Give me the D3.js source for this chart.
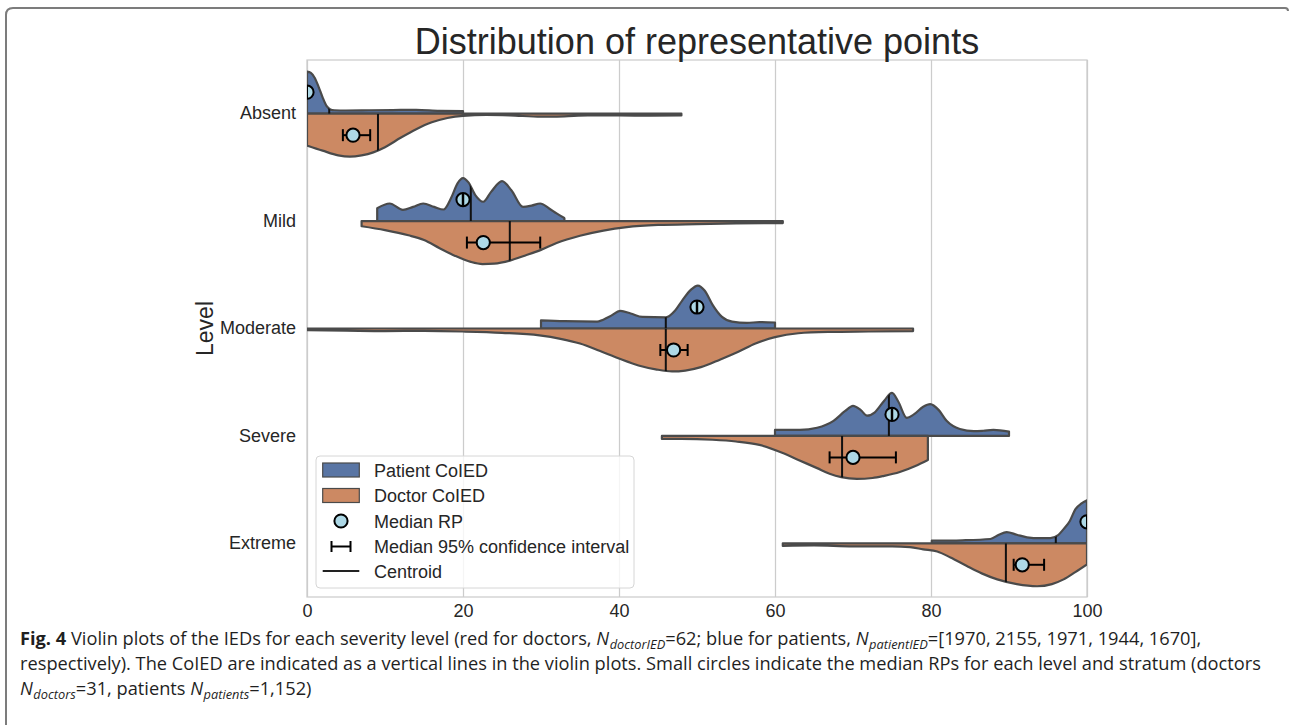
<!DOCTYPE html>
<html>
<head>
<meta charset="utf-8">
<script src="https://cdn.jsdelivr.net/npm/d3@7"></script>
<style>
  html, body { margin: 0; padding: 0; background: #ffffff; }
  svg { display: block; }
</style>
</head>
<body>
<svg id="chart" width="1289" height="725"></svg>
<script>
// ---------------- data ----------------
const levels = ["Absent", "Mild", "Moderate", "Severe", "Extreme"];
const xTicks = [0, 20, 40, 60, 80, 100];

// Kernel density profiles per level: [IED value, relative density]
// (each half scaled so that its peak is 1, i.e. scale = "width")
const patientDensity = [
  [[0,0.98],[0.5,0.95],[1.0,0.83],[1.5,0.62],[2.0,0.38],[2.5,0.18],[3.0,0.1],[3.5,0.08],[5,0.075],[8,0.08],[11,0.085],[14,0.09],[17,0.065],[20,0.06]],
  [[9,0.3],[10.6,0.41],[12.3,0.26],[13.6,0.33],[14.9,0.41],[16.3,0.33],[17.5,0.27],[18.5,0.55],[19.3,0.88],[20,1.0],[20.7,0.9],[21.6,0.6],[22.6,0.45],[23.6,0.68],[25,0.93],[26.2,0.72],[27.7,0.33],[28.8,0.36],[29.9,0.41],[31,0.3],[32,0.18],[33,0.07]],
  [[30,0.19],[33,0.17],[37.2,0.16],[38.8,0.28],[40.2,0.41],[41.5,0.35],[43,0.27],[46,0.26],[47.2,0.42],[48.1,0.65],[49.2,0.9],[50.1,1.0],[51,0.88],[52,0.55],[53.2,0.27],[54.5,0.16],[56.4,0.13],[58,0.15],[60,0.14]],
  [[60,0.14],[63.2,0.14],[65.4,0.19],[67.5,0.35],[69,0.58],[70,0.7],[71,0.6],[71.8,0.47],[72.8,0.55],[74,0.82],[75,1.0],[75.8,0.8],[76.9,0.42],[77.8,0.5],[79,0.68],[79.9,0.74],[81,0.6],[82,0.35],[83.7,0.16],[85.5,0.11],[86.7,0.12],[88,0.14],[90,0.1]],
  [[80.1,0.06],[84,0.07],[87.6,0.1],[88.7,0.2],[89.7,0.26],[91,0.2],[92.3,0.14],[94,0.12],[95.3,0.12],[96.3,0.19],[97,0.33],[97.8,0.52],[98.5,0.79],[99.3,0.93],[100,1.0]]
];
const doctorDensity = [
  [[0,0.74],[2,0.86],[4,0.97],[5.5,1.0],[7,0.97],[8.5,0.9],[10,0.78],[12,0.56],[14,0.36],[16,0.2],[18,0.1],[20,0.05],[23,0.03],[26,0.04],[30,0.07],[33,0.06],[36,0.04],[40,0.04],[44,0.045],[48,0.04]],
  [[7,0.12],[10,0.21],[13,0.33],[15,0.44],[17,0.63],[19,0.81],[21,0.95],[22.5,1.0],[24,0.99],[26,0.92],[28,0.8],[30,0.67],[32,0.51],[35,0.34],[38,0.22],[41,0.14],[45,0.09],[50,0.07],[55,0.055],[61,0.045]],
  [[0,0.04],[5,0.05],[10,0.06],[15,0.055],[20,0.07],[25,0.1],[29.8,0.16],[32.5,0.24],[35,0.35],[37.5,0.52],[40,0.7],[42.5,0.86],[44.7,0.95],[46.8,1.0],[48.5,0.98],[50.5,0.9],[53,0.72],[55.3,0.54],[57.5,0.35],[60,0.2],[63,0.11],[67,0.08],[72,0.07],[77.7,0.06]],
  [[45.5,0.07],[48,0.07],[52,0.09],[55,0.13],[58,0.21],[61,0.4],[63,0.56],[65.4,0.75],[67,0.88],[68.5,0.96],[70.5,1.0],[72.5,0.98],[74,0.93],[76,0.84],[78,0.7],[79.6,0.56]],
  [[61,0.06],[65,0.05],[70,0.07],[75,0.07],[77.3,0.09],[79,0.14],[80.8,0.19],[82.5,0.33],[84.6,0.53],[86.5,0.7],[88.5,0.84],[91,0.95],[93.6,1.0],[95.5,0.95],[97,0.84],[98.5,0.67],[100,0.49]]
];

// CoIED (centroid) per level
const patientCentroid = [2.85, 21.0, 46.0, 74.6, 96.0];
const doctorCentroid  = [9.1, 26.0, 46.0, 68.6, 89.6];

// Median representative point and its 95% confidence interval
const patientMedian = [0, 20.0, 50.0, 75.0, 100];
const doctorMedian  = [5.9, 22.6, 47.0, 70.0, 91.7];
const patientCI = [[0, 0], [19.97, 20.03], [49.97, 50.03], [74.97, 75.03], [100, 100]];
const doctorCI  = [[4.6, 8.1], [20.5, 29.9], [45.3, 48.8], [67.0, 75.5], [90.6, 94.5]];

const legendLabels = ["Patient CoIED", "Doctor CoIED", "Median RP", "Median 95% confidence interval", "Centroid"];

// ---------------- layout & style ----------------
const svg = d3.select("#chart");
const plot = { left: 307, right: 1087, top: 60, bottom: 597 };
const colPatient = "#5975a4";
const colDoctor = "#cc8963";
const colEdge = "#4a4a4a";
const colText = "#262626";
const colGrid = "#cccccc";
const colMarker = "#add8e6";
const sansFont = "'Liberation Sans', Arial, Helvetica, sans-serif";

const x = d3.scaleLinear().domain([0, 100]).range([plot.left, plot.right]);
const y = d3.scaleBand().domain(levels).range([plot.top, plot.bottom]);
const halfW = y.bandwidth() * 0.4;
const w = d3.scaleLinear().domain([0, 1]).range([0, halfW]);
const cy = lvl => y(lvl) + y.bandwidth() / 2;

// Frame around the figure panel
svg.append("path")
  .attr("d", "M6,725 L6,15 Q6,8 13,8 L1285,8 Q1288,8 1288,11")
  .attr("fill", "none").attr("stroke", "#7c7c7c").attr("stroke-width", 2);

const defs = svg.append("defs");
defs.append("clipPath").attr("id", "plotClip")
  .append("rect")
  .attr("x", plot.left).attr("y", plot.top)
  .attr("width", plot.right - plot.left).attr("height", plot.bottom - plot.top);

// Vertical gridlines
const grid = svg.append("g")
  .attr("transform", `translate(0,${plot.bottom})`)
  .call(d3.axisBottom(x).tickValues(xTicks).tickSize(-(plot.bottom - plot.top)).tickFormat(""));
grid.select(".domain").remove();
grid.selectAll("line").attr("stroke", colGrid).attr("stroke-width", 1.25);

// Axes frame
svg.append("rect")
  .attr("x", plot.left).attr("y", plot.top)
  .attr("width", plot.right - plot.left).attr("height", plot.bottom - plot.top)
  .attr("fill", "none").attr("stroke", colGrid).attr("stroke-width", 1.25);

// X tick labels
const xAxis = svg.append("g")
  .attr("transform", `translate(0,${plot.bottom})`)
  .call(d3.axisBottom(x).tickValues(xTicks).tickSize(0).tickPadding(7).tickFormat(d3.format("d")));
xAxis.select(".domain").remove();
xAxis.selectAll("text").attr("font-family", sansFont).attr("font-size", 18).attr("fill", colText);

// Y tick labels
const yAxis = svg.append("g")
  .attr("transform", `translate(${plot.left},0)`)
  .call(d3.axisLeft(y).tickSize(0).tickPadding(11));
yAxis.select(".domain").remove();
yAxis.selectAll("text").attr("font-family", sansFont).attr("font-size", 18).attr("fill", colText);

// Y axis label
svg.append("text")
  .attr("transform", `translate(213,${(plot.top + plot.bottom) / 2}) rotate(-90)`)
  .attr("text-anchor", "middle")
  .attr("font-family", sansFont).attr("font-size", 23).attr("fill", colText)
  .text("Level");

// Title
svg.append("text")
  .attr("x", (plot.left + plot.right) / 2).attr("y", 54)
  .attr("text-anchor", "middle")
  .attr("font-family", sansFont).attr("font-size", 36).attr("fill", colText)
  .text("Distribution of representative points");

// ---------------- violins ----------------
const plotG = svg.append("g").attr("clip-path", "url(#plotClip)");

const halves = [
  { name: "patient", dens: patientDensity, color: colPatient, dir: -1, cen: patientCentroid, med: patientMedian, ci: patientCI },
  { name: "doctor",  dens: doctorDensity,  color: colDoctor,  dir: 1,  cen: doctorCentroid,  med: doctorMedian,  ci: doctorCI }
];

function halfArea(lvl, dir) {
  return d3.area()
    .x(d => x(d[0]))
    .y0(cy(lvl))
    .y1(d => cy(lvl) + dir * w(d[1]))
    .curve(d3.curveMonotoneX);
}

levels.forEach((lvl, i) => {
  halves.forEach(h => {
    const pathD = halfArea(lvl, h.dir)(h.dens[i]);
    defs.append("clipPath").attr("id", `clip-${h.name}-${i}`)
      .append("path").attr("d", pathD);
    plotG.append("path")
      .attr("d", pathD)
      .attr("fill", h.color)
      .attr("stroke", colEdge)
      .attr("stroke-width", 2.2)
      .attr("stroke-linejoin", "round");
  });
});

// Centroid lines, confined to their own half-violin
levels.forEach((lvl, i) => {
  halves.forEach(h => {
    plotG.append("g").attr("clip-path", `url(#clip-${h.name}-${i})`)
      .append("line")
      .attr("x1", x(h.cen[i])).attr("x2", x(h.cen[i]))
      .attr("y1", cy(lvl)).attr("y2", cy(lvl) + h.dir * (halfW + 4))
      .attr("stroke", "#111").attr("stroke-width", 2);
  });
});

// Median markers with 95% CI error bars (caps drawn above the marker)
const capH = 6;
levels.forEach((lvl, i) => {
  halves.forEach(h => {
    const py = cy(lvl) + h.dir * halfW / 2;
    const [lo, hi] = h.ci[i];
    plotG.append("line")
      .attr("x1", x(lo)).attr("x2", x(hi)).attr("y1", py).attr("y2", py)
      .attr("stroke", "#000").attr("stroke-width", 2);
    plotG.append("circle")
      .attr("cx", x(h.med[i])).attr("cy", py).attr("r", 6.6)
      .attr("fill", colMarker).attr("stroke", "#000").attr("stroke-width", 2);
    [lo, hi].forEach(v => {
      plotG.append("line")
        .attr("x1", x(v)).attr("x2", x(v)).attr("y1", py - capH).attr("y2", py + capH)
        .attr("stroke", "#000").attr("stroke-width", 2);
    });
  });
});

// ---------------- legend ----------------
const lg = svg.append("g").attr("transform", "translate(316,456)");
lg.append("rect")
  .attr("x", 0).attr("y", 0).attr("width", 318).attr("height", 132).attr("rx", 4)
  .attr("fill", "rgba(255,255,255,0.8)").attr("stroke", "#d6d6d6").attr("stroke-width", 1);
const rowY = [14, 39.5, 65, 90.5, 115];
const symX0 = 6.7, symX1 = 43.3, symXC = 25;
lg.append("rect").attr("x", symX0).attr("y", rowY[0] - 7).attr("width", symX1 - symX0).attr("height", 14)
  .attr("fill", colPatient).attr("stroke", colEdge).attr("stroke-width", 1.2);
lg.append("rect").attr("x", symX0).attr("y", rowY[1] - 7).attr("width", symX1 - symX0).attr("height", 14)
  .attr("fill", colDoctor).attr("stroke", colEdge).attr("stroke-width", 1.2);
lg.append("circle").attr("cx", symXC).attr("cy", rowY[2]).attr("r", 6.6)
  .attr("fill", colMarker).attr("stroke", "#000").attr("stroke-width", 2);
lg.append("line").attr("x1", symXC - 9.5).attr("x2", symXC + 9.5).attr("y1", rowY[3]).attr("y2", rowY[3])
  .attr("stroke", "#000").attr("stroke-width", 2);
[symXC - 9.5, symXC + 9.5].forEach(cx0 => {
  lg.append("line").attr("x1", cx0).attr("x2", cx0).attr("y1", rowY[3] - 5.5).attr("y2", rowY[3] + 5.5)
    .attr("stroke", "#000").attr("stroke-width", 2);
});
lg.append("line").attr("x1", symX0).attr("x2", symX1).attr("y1", rowY[4]).attr("y2", rowY[4])
  .attr("stroke", "#222").attr("stroke-width", 2);
lg.selectAll("text.lbl").data(legendLabels).enter().append("text")
  .attr("class", "lbl")
  .attr("x", 58).attr("y", (d, k) => rowY[k] + 6.5)
  .attr("font-family", sansFont).attr("font-size", 18).attr("fill", colText)
  .text(d => d);

// ---------------- caption ----------------
const captionLines = [
  [["Fig. 4", "b"], [" Violin plots of the IEDs for each severity level (red for doctors, ", ""], ["N", "i"], ["doctorIED", "sub"],
   ["=62; blue for patients, ", ""], ["N", "i"], ["patientIED", "sub"], ["=[1970, 2155, 1971, 1944, 1670],", ""]],
  [["respectively). The CoIED are indicated as a vertical lines in the violin plots. Small circles indicate the median RPs for each level and stratum (doctors", ""]],
  [["N", "i"], ["doctors", "sub"], ["=31, patients ", ""], ["N", "i"], ["patients", "sub"], ["=1,152)", ""]]
];
const capBase = [645, 670, 694.5];
const capFont = "'Open Sans', 'Noto Sans', sans-serif";
const capGroups = captionLines.map((parts, li) => {
  const g = svg.append("g").attr("transform", `translate(20,${capBase[li]})`);
  const t = g.append("text").attr("x", 0).attr("y", 0)
    .attr("font-family", capFont).attr("font-size", 18.5).attr("fill", "#1f1f1f");
  let shifted = false;
  parts.forEach(([str, st]) => {
    const ts = t.append("tspan").text(str);
    if (st === "b") ts.attr("font-weight", "bold");
    if (st === "i") ts.attr("font-style", "italic");
    if (st === "sub") {
      ts.attr("font-style", "italic").attr("font-size", 13).attr("dy", 4).attr("dx", 0.5);
      shifted = true;
    } else if (shifted) {
      ts.attr("dy", -4);
      shifted = false;
    }
  });
  return { g, t };
});
// Fit the caption to the panel width (the caption face is condensed)
const natural = capGroups[1].t.node().getComputedTextLength();
const sx = 1242 / natural;
capGroups.forEach(({ g }, li) => g.attr("transform", `translate(20,${capBase[li]}) scale(${sx},1)`));
</script>
</body>
</html>
